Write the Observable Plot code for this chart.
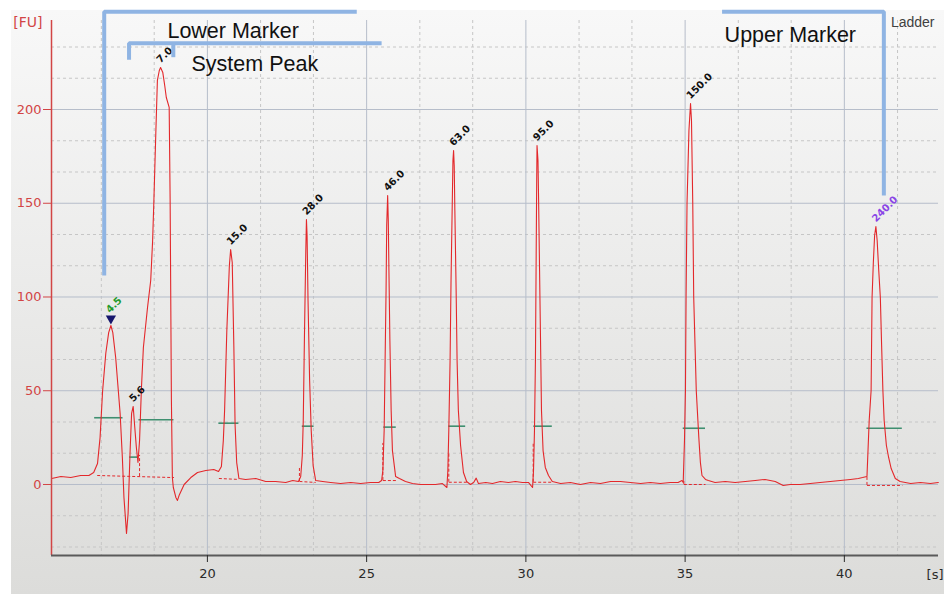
<!DOCTYPE html>
<html><head><meta charset="utf-8">
<script src="https://cdn.jsdelivr.net/npm/d3@7"></script>
<script src="https://cdn.jsdelivr.net/npm/@observablehq/plot@0.6"></script>
<style>
html,body{margin:0;padding:0;background:#fff;overflow:hidden;}
#chart svg{display:block;}
</style></head><body><div id="chart"></div>
<script>
// ---- data (migration time in s, fluorescence in FU) ----
const time = [15.11,15.40,15.71,16.02,16.28,16.43,16.55,16.63,16.71,16.81,16.90,16.97,17.03,17.12,17.19,17.26,17.33,17.38,17.46,17.51,17.57,17.62,17.67,17.72,17.77,17.82,17.87,17.93,17.99,18.12,18.22,18.28,18.32,18.38,18.43,18.49,18.53,18.60,18.66,18.71,18.80,18.83,18.87,18.90,18.93,19.01,19.06,19.11,19.27,19.48,19.69,19.95,20.20,20.35,20.44,20.50,20.54,20.61,20.69,20.73,20.78,20.83,20.87,20.92,20.99,21.20,21.52,21.83,22.14,22.46,22.68,22.86,22.93,22.98,23.01,23.05,23.09,23.11,23.13,23.16,23.21,23.26,23.32,23.40,23.62,23.87,24.18,24.50,24.81,25.12,25.38,25.47,25.51,25.55,25.58,25.61,25.63,25.66,25.68,25.70,25.73,25.77,25.81,25.91,26.03,26.22,26.44,26.69,26.94,27.16,27.38,27.52,27.55,27.58,27.62,27.65,27.69,27.71,27.73,27.75,27.77,27.81,27.84,27.88,27.95,28.04,28.14,28.26,28.36,28.44,28.51,28.74,28.95,29.20,29.45,29.67,29.89,30.08,30.21,30.24,30.27,30.30,30.32,30.34,30.35,30.38,30.40,30.43,30.46,30.49,30.54,30.61,30.71,30.83,31.09,31.40,31.71,32.03,32.34,32.66,32.97,33.28,33.60,33.91,34.22,34.53,34.78,34.90,34.94,34.98,35.01,35.03,35.06,35.12,35.17,35.20,35.24,35.27,35.35,35.43,35.48,35.53,35.64,35.73,35.94,36.26,36.57,36.89,37.20,37.51,37.83,38.08,38.30,38.61,38.93,39.24,39.56,39.87,40.19,40.44,40.57,40.71,40.73,40.78,40.84,40.87,40.91,40.95,40.99,41.03,41.08,41.13,41.17,41.21,41.25,41.32,41.39,41.47,41.60,41.75,42.08,42.39,42.70,42.95];
const fu = [3.2,4.3,3.7,4.8,4.8,6.4,11.2,25,50,70,81,84.8,81,67.7,52.8,37.9,14.4,-6.9,-26.1,-15.5,16.5,37.9,41.6,30.4,19.7,11.7,23.5,51.7,73.1,94.4,108.8,130,151.5,187.2,215.5,220.8,222.4,219.7,212.8,206.4,201.1,151.5,44.8,3.7,-1.6,-6.9,-8.5,-5.9,0,3.7,6.4,7.5,8,6.9,9.6,23.5,39.5,82.1,116.8,125.3,118.4,74.1,31.5,11.7,3.2,2.7,3.2,1.6,1.6,1.1,2.1,1.6,4.3,15.5,34.1,82.1,124.8,141.3,132.8,98.1,55.5,28.8,10.1,2.1,1.6,1.1,0.5,1.1,0.5,1.1,1.1,2.1,7.5,28.8,66.1,103.5,138.1,154.1,140.8,114.1,76.8,39.5,18.1,4.3,3.2,1.6,0.5,0,0,0,0.5,-1.6,7.5,28.8,66.1,108.8,151.5,172.8,178.1,170.1,146.1,103.5,66.1,39.5,20.8,6.4,1.6,0,1.1,3.4,0.5,1.1,0.5,1.6,1.1,1.6,1.1,1.1,-1.6,7.5,28.8,66.1,114.1,162.1,180.8,172.8,151.5,114.1,76.8,39.5,18.1,9.1,4.8,1.6,0.5,1.1,0,1.1,0.5,1.6,1.6,1.1,0.5,1.1,0.5,1.1,1.1,2.1,1.1,23.5,50.1,99.7,149.9,188.8,203.2,194.1,149.9,99.7,50.1,25.1,11.7,4.8,2.7,2.1,1.1,1.6,1.1,1.6,2.1,2.7,1.6,-0.5,0,0,0.5,1.1,1.6,2.1,2.7,3.2,3.7,4.3,12.8,34.1,50.1,99.7,118.4,132.8,137.6,130.1,114.1,99.7,74.1,50.1,34.1,20.8,14.4,8.5,3.2,1.6,0.5,1.1,0.5,1.1];

// peaks
const peakLabels = ["4.5","5.6","7.0","15.0","28.0","46.0","63.0","95.0","150.0","240.0"];
const peakTime   = [16.97,17.67,18.53,20.73,23.11,25.66,27.73,30.35,35.17,40.99];
const peakHeight = [84.8,41.6,222.4,125.3,141.3,154.1,178.1,180.8,203.2,137.6];
const peakColors = ["#1f9a2a","#111","#111","#111","#111","#111","#111","#111","#111","#8a45e6"];

// peak width bars
const barStart = [16.46,17.56,17.85,20.36,22.98,25.54,27.58,30.25,34.94,40.71];
const barEnd   = [17.35,17.82,18.95,20.99,23.35,25.93,28.11,30.83,35.64,41.82];
const barLevel = [35.6,14.6,34.5,32.7,31.1,30.6,31.1,31.1,30.0,30.0];

// dashed peak baselines
const baseStart = [16.54,20.36,22.89,25.51,27.58,30.23,34.96,40.71];
const baseEnd   = [18.95,20.99,23.40,25.96,28.16,30.83,35.64,41.82];
const baseFrom  = [4.8,3.2,1.6,2.1,1.2,1.2,0,-0.5];
const baseTo    = [3.7,2.7,1.1,2.1,1.2,1.2,0,-0.5];
// drop lines at peak boundaries
const dropTime = [17.87,22.89,25.51,27.58,30.23,34.96,40.71];
const dropLow  = [4.2,1.6,2.1,1.2,1.2,0,-0.5];
const dropHigh = [15.5,9.2,21.9,16.5,21.9,2.1,4.3];

// annotation brackets
const bracketName = ["lower","lower","lower","system","system","system","systemTick","systemTick","upper","upper","upper"];
const bracketTime = [16.76,16.76,24.69, 17.54,17.54,25.47, 18.93,18.93, 36.16,41.24,41.24];
const bracketFU   = [111.5,252.2,252.2, 226.5,235.4,235.4, 235.4,227.9, 252.2,252.2,154.1];
const annText = ["Lower Marker","System Peak","Upper Marker"];
const annTime = [18.745,19.50,36.24];
const annFU   = [238.2,220.4,236.1];

// axes
const xTicks = [20,25,30,35,40];
const yTicks = [0,50,100,150,200];
const xMinor = [16.67,18.33,21.67,23.33,26.67,28.33,31.67,33.33,36.67,38.33,41.67];
const yMinor = [-33.33,-16.67,16.67,33.33,66.67,83.33,116.67,133.33,166.67,183.33,216.67,233.33];
const xDomain = [15.105, 42.956];
const yDomain = [-37.87, 247.47];

// ---- build ----
const trace = time.map((t, i) => ({t, v: fu[i]}));
const peaks = peakLabels.map((label, i) => ({label, t: peakTime[i], v: peakHeight[i], color: peakColors[i]}));
const bars = barStart.map((a, i) => ({a, b: barEnd[i], v: barLevel[i]}));
const bases = baseStart.map((a, i) => ({a, b: baseEnd[i], v1: baseFrom[i], v2: baseTo[i]}));
const drops = dropTime.map((t, i) => ({t, lo: dropLow[i], hi: dropHigh[i]}));
const brackets = bracketTime.map((t, i) => ({t, v: bracketFU[i], g: bracketName[i]}));
const anns = annText.map((text, i) => ({text, t: annTime[i], v: annFU[i]}));

const red = "#e3282b";
const axisRed = "#d24545";
const blue = "#8fb4e3";

const chart = Plot.plot({
  width: 944, height: 594,
  marginLeft: 51, marginRight: 6, marginTop: 20, marginBottom: 39,
  x: {domain: xDomain},
  y: {domain: yDomain},
  style: {
    background: "linear-gradient(to bottom, #f8f8f8, #dcdcda) 11px 10px / 933px 584px no-repeat, #ffffff",
    fontFamily: "DejaVu Sans",
    fontSize: "13px",
    overflow: "visible"
  },
  marks: [
    Plot.gridX(xMinor, {stroke: "#c6c6c6", strokeOpacity: 1, strokeDasharray: "3,3"}),
    Plot.gridY(yMinor, {stroke: "#c6c6c6", strokeOpacity: 1, strokeDasharray: "3,3"}),
    Plot.gridX(xTicks, {stroke: "#b6bdca", strokeOpacity: 1}),
    Plot.gridY(yTicks, {stroke: "#b6bdca", strokeOpacity: 1}),
    Plot.link(bases, {x1: "a", x2: "b", y1: "v1", y2: "v2", stroke: red, strokeWidth: 1, strokeDasharray: "3,2"}),
    Plot.ruleX(drops, {x: "t", y1: "lo", y2: "hi", stroke: red, strokeWidth: 1, strokeDasharray: "3,2"}),
    Plot.ruleY(bars, {y: "v", x1: "a", x2: "b", stroke: "#3f8f70", strokeWidth: 1.6}),
    Plot.line(trace, {x: "t", y: "v", stroke: red, strokeWidth: 1.1}),
    Plot.ruleX([xDomain[0]], {stroke: axisRed, strokeWidth: 1.5}),
    Plot.ruleY([yDomain[0]], {stroke: "#5a5a5a", strokeWidth: 2}),
    Plot.axisX(xTicks, {tickSize: 7, tickPadding: 6, color: "#2a2a2a", fontSize: 13, label: null}),
    Plot.axisY(yTicks, {tickSize: 8, tickPadding: 2, color: axisRed, fontSize: 13, label: null}),
    Plot.text(["[FU]"], {frameAnchor: "top-left", dx: -9, dy: 6, textAnchor: "end", lineAnchor: "bottom", fill: axisRed, fontSize: 14}),
    Plot.text(["[s]"], {frameAnchor: "bottom-right", dx: 5, dy: 23, textAnchor: "end", lineAnchor: "bottom", fill: "#2a2a2a", fontSize: 13}),
    Plot.text(["Ladder"], {frameAnchor: "top-right", dx: -4, dy: 6, textAnchor: "end", lineAnchor: "bottom", fill: "#404040", fontSize: 14, fontFamily: "Liberation Sans"}),
    Plot.dot(peaks.slice(0, 1), {x: "t", y: "v", symbol: "triangle", r: 3.8, rotate: 180, fill: "#16166c", stroke: "none", dy: -7}),
    Plot.text(peaks.slice(0, 1), {x: "t", y: "v", text: "label", fill: "color", rotate: -45, textAnchor: "start", lineAnchor: "bottom", dx: -1, dy: -12, fontSize: 10, fontWeight: "bold"}),
    Plot.text(peaks.slice(1), {x: "t", y: "v", text: "label", fill: "color", rotate: -45, textAnchor: "start", lineAnchor: "bottom", dx: 0, dy: -4, fontSize: 10, fontWeight: "bold"}),
    Plot.line(brackets, {x: "t", y: "v", z: "g", stroke: blue, strokeWidth: 4, strokeLinejoin: "miter", strokeLinecap: "butt"}),
    Plot.text(anns, {x: "t", y: "v", text: "text", textAnchor: "start", lineAnchor: "bottom", fontSize: 21.5, fontFamily: "Liberation Sans", fill: "#111"})
  ]
});
document.getElementById("chart").append(chart);
</script></body></html>
